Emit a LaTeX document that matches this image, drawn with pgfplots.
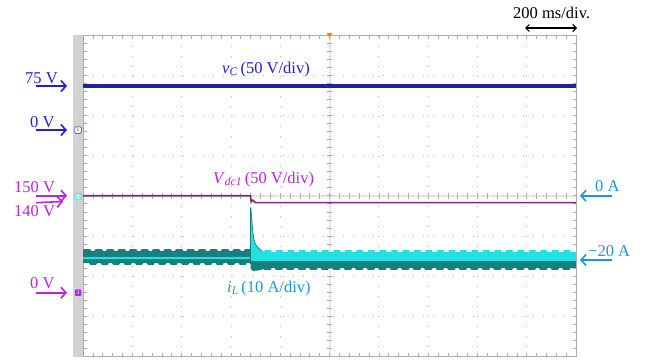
\documentclass[border=0pt]{standalone}
\usepackage{pgfplots}
\pgfplotsset{compat=1.18}
\usepackage{fontspec}
\setmainfont{Liberation Serif}
\usetikzlibrary{arrows.meta}
\definecolor{vCtr}{RGB}{28,38,150}
\definecolor{vClab}{RGB}{30,30,235}
\definecolor{Vdctr}{RGB}{125,40,125}
\definecolor{Vdclab}{RGB}{185,35,225}
\definecolor{iLdark}{RGB}{22,128,128}
\definecolor{iLcyan}{RGB}{35,225,225}
\definecolor{iLlab}{RGB}{25,150,225}
\begin{document}
\begin{tikzpicture}[x=1pt,y=1pt,font=\fontsize{16.5}{18}\selectfont,
  arr/.style={line width=1.6pt,-{Straight Barb[length=5pt,width=11pt,line width=1.6pt]}}]
\useasboundingbox (0,0) rectangle (652,360);
\fill[gray!35] (73,3.5) rectangle (83,325);
% center crosshair (behind axis content)
\fill[gray!18] (328.5,3.5) rectangle (330.5,325);
\fill[gray!18] (83,163.3) rectangle (576,165.3);
\foreach \k in {1,...,49} {\draw[gray!65,line width=0.6pt] (83+\k*9.86,161.5) -- (83+\k*9.86,167);}
\foreach \k in {1,...,39} {\draw[gray!65,line width=0.6pt] (326.8,3.5+\k*8.0375) -- (332.2,3.5+\k*8.0375);}
\begin{axis}[at={(83pt,3.5pt)}, anchor=south west, scale only axis,
  width=493pt, height=321.5pt,
  xmin=0, xmax=10, ymin=-4, ymax=4,
  xtick={0,...,10}, ytick={-4,...,4},
  minor x tick num=4, minor y tick num=4,
  xticklabels={}, yticklabels={},
  tick align=inside, major tick length=3.5pt, minor tick length=3.5pt,
  tick style={gray!65, line width=0.6pt},
  grid=major,
  major grid style={gray!55, line width=0.8pt, dash pattern=on 0.8pt off 9.2pt},
  axis line style={gray!65, line width=1pt},
  clip=false]
% iL before step
\addplot[draw=none, fill=iLdark] coordinates {(0,-1.37) (3.40,-1.37) (3.40,-1.685) (0,-1.685)} -- cycle;
\addplot[iLdark, line width=3pt, dash pattern=on 5.5pt off 6pt, line cap=round] coordinates {(0.03,-1.36) (3.38,-1.36)};
\addplot[iLdark, line width=2.4pt, dash pattern=on 5.5pt off 6pt, line cap=round] coordinates {(0.15,-1.69) (3.38,-1.69)};
\addplot[draw=none, fill=iLcyan] coordinates {(0,-1.535) (3.40,-1.535) (3.40,-1.585) (0,-1.585)} -- cycle;
% iL after step
\addplot[draw=none, fill=iLdark] coordinates {(3.40,-1.60) (10,-1.60) (10,-1.79) (3.40,-1.79)} -- cycle;
\addplot[iLdark, line width=3pt, dash pattern=on 5.5pt off 6pt, line cap=round] coordinates {(3.45,-1.80) (9.97,-1.80)};
\addplot[draw=none, fill=iLdark] coordinates {(3.40,-1.60) (3.40,-1.82) (3.45,-1.87) (3.55,-1.86) (3.68,-1.82) (3.68,-1.60)} -- cycle;
\addplot[draw=none, fill=iLcyan] coordinates {(3.40,-1.39) (10,-1.39) (10,-1.615) (3.40,-1.615)} -- cycle;
\addplot[iLcyan, line width=2.2pt, dash pattern=on 5.5pt off 6pt, line cap=round] coordinates {(3.46,-1.38) (9.97,-1.38)};
% spike
\addplot[fill=iLcyan, draw=none] coordinates {(3.39,-1.55) (3.39,-0.30) (3.405,-0.29) (3.42,-0.55) (3.44,-0.85) (3.46,-1.05) (3.49,-1.18) (3.525,-1.26) (3.58,-1.33) (3.63,-1.37) (3.75,-1.39) (3.90,-1.40) (3.90,-1.60) (3.41,-1.60)} -- cycle;
\addplot[iLdark, line width=0.7pt] coordinates {(3.405,-0.29) (3.42,-0.55) (3.44,-0.85) (3.46,-1.05) (3.49,-1.18) (3.525,-1.26) (3.58,-1.33) (3.63,-1.37)};
\addplot[iLdark, line width=1.4pt] coordinates {(3.392,-1.70) (3.392,-0.30)};
% Vdc1
\addplot[Vdctr, line width=1.6pt] coordinates {(0,0) (3.398,0) (3.41,-0.15) (3.44,-0.11) (3.50,-0.17) (10,-0.17)};
% vC
\addplot[vCtr, line width=3.2pt] coordinates {(0,2.73) (10,2.73)};
\end{axis}
% trigger marker
\fill[orange] (326.5,327) -- (332.5,327) -- (329.5,322.5) -- cycle;
% channel markers
\node[draw=vClab, fill=white, rounded corners=1pt, minimum size=6.5pt, inner sep=0pt, line width=0.5pt, text=vClab, font=\fontsize{5.5}{6}\selectfont] at (78,230) {1};
\node[draw=iLcyan, fill=iLcyan!45, rounded corners=1pt, minimum size=6.5pt, inner sep=0pt, line width=0.5pt, text=white, font=\fontsize{5.5}{6}\selectfont] at (78,163.5) {2};
\node[fill=Vdclab, rounded corners=1pt, minimum size=6.5pt, inner sep=0pt, text=white, font=\fontsize{5.5}{6}\selectfont] at (78,67.3) {3};
% left labels
\node[anchor=base west, inner sep=0, text=vClab] at (25,277) {75 V};
\draw[arr, vClab] (36,274) -- (67,274);
\node[anchor=base west, inner sep=0, text=vClab] at (30,233) {0 V};
\draw[arr, vClab] (36,230) -- (67,230);
\node[anchor=base west, inner sep=0, text=Vdclab] at (14,168) {150 V};
\draw[arr, Vdclab] (36,164.3) -- (67,164.3);
\draw[arr, Vdclab] (36,157.3) -- (63,158.5);
\node[anchor=base west, inner sep=0, text=Vdclab] at (14,143.3) {140 V};
\node[anchor=base west, inner sep=0, text=Vdclab] at (30,72) {0 V};
\draw[arr, Vdclab] (36,67.3) -- (67,67.3);
% right labels
\node[anchor=base west, inner sep=0, text=iLlab] at (595,168.3) {0 A};
\draw[arr, iLlab] (612,164.3) -- (580,164.3);
\node[anchor=base west, inner sep=0, text=iLlab] at (588,103.3) {−20 A};
\draw[arr, iLlab] (612,100) -- (580,100);
% time scale
\node[anchor=base west, inner sep=0] at (513,342) {200 ms/div.};
\draw[line width=1.1pt, {Straight Barb[length=3.5pt,width=7pt]}-{Straight Barb[length=3.5pt,width=7pt]}] (525,332) -- (577,332);
% trace labels
\node[anchor=base west, inner sep=0, text=vClab] at (222,287) {\textit{v}\textsubscript{\textit{C}}\,(50 V/div)};
\node[anchor=base west, inner sep=0, text=Vdclab] at (213,177) {\textit{V}\textsubscript{\textit{dc1}}\,(50 V/div)};
\node[anchor=base west, inner sep=0, text=iLlab] at (227,68) {\textit{i}\textsubscript{\textit{L}}\,(10 A/div)};
\end{tikzpicture}
\end{document}
